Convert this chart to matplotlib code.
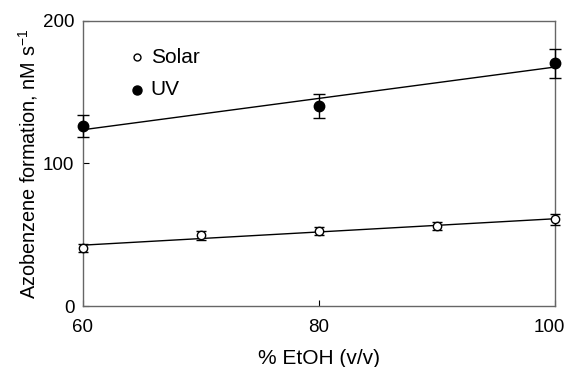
import numpy as np
import matplotlib
matplotlib.use("Agg")
import matplotlib.pyplot as plt
import matplotlib.transforms as mtransforms

plt.rcParams['font.family'] = ['Liberation Sans', 'DejaVu Sans']
plt.rcParams['mathtext.fontset'] = 'custom'
plt.rcParams['mathtext.rm'] = 'Liberation Sans'

# Data
solar_x = [60, 70, 80, 90, 100]
solar_y = [40.9, 49.6, 52.4, 56.1, 60.8]
solar_err = [2.7, 3.3, 2.8, 2.8, 3.9]

uv_x = [60, 80, 100]
uv_y = [126.3, 140.4, 170.3]
uv_err = [8.0, 8.5, 10.3]

xticks = [60, 80, 100]
yticks = [0, 100, 200]

fig = plt.figure(figsize=(5.67, 3.67), dpi=100)
ax = fig.add_axes([0.1459, 0.1662, 0.9783 - 0.1459, 0.9428 - 0.1662])

# fit lines
for xs, ys in [(solar_x, solar_y), (uv_x, uv_y)]:
    p = np.polyfit(xs, ys, 1)
    xx = np.array([60, 100])
    ax.plot(xx, np.polyval(p, xx), color='black', lw=1.0, zorder=2)

ax.errorbar(solar_x, solar_y, yerr=solar_err, fmt='o', ms=6, mfc='white',
            mec='black', mew=1.0, ecolor='black', elinewidth=1.0, capsize=3.5,
            capthick=1.0, zorder=3, clip_on=False)
ax.errorbar(uv_x, uv_y, yerr=uv_err, fmt='o', ms=7.5, mfc='black',
            mec='black', ecolor='black', elinewidth=1.0, capsize=4.5,
            capthick=1.0, zorder=3, clip_on=False)

ax.set_xlim(60, 100)
ax.set_ylim(0, 200)
ax.set_xticks(xticks)
ax.set_yticks(yticks)
ax.tick_params(direction='in', length=4, width=0.8, labelsize=13.5)
ax.tick_params(axis='x', pad=9)
ax.tick_params(axis='y', pad=6)
for s in ax.spines.values():
    s.set_color('#666666')
    s.set_linewidth(1.0)

# nudge the last x tick label so it stays inside the canvas
fig.canvas.draw()
last = ax.get_xticklabels()[-1]
last.set_transform(last.get_transform() +
                   mtransforms.ScaledTranslation(-5 / 100, 0, fig.dpi_scale_trans))

ax.set_xlabel('% EtOH (v/v)', fontsize=15, labelpad=10)
ax.set_ylabel('Azobenzene formation, nM s$^{\\mathrm{-1}}$', fontsize=14.3, labelpad=2)

# legend
ax.plot([64.6], [174.7], 'o', ms=5, mfc='white', mec='black', mew=1.0)
ax.text(65.75, 174.7, 'Solar', fontsize=15, va='center', ha='left')
ax.plot([64.6], [151.6], 'o', ms=6.5, mfc='black', mec='black')
ax.text(65.75, 151.6, 'UV', fontsize=15, va='center', ha='left')

fig.savefig('out.png', dpi=100)
